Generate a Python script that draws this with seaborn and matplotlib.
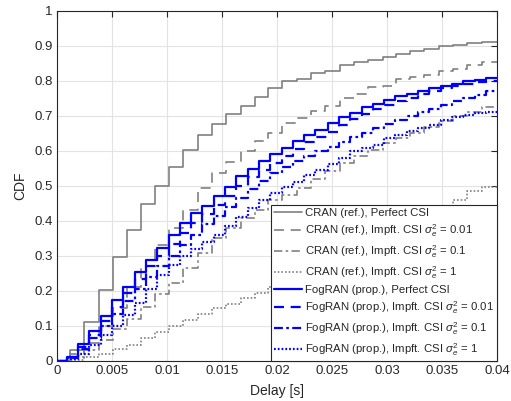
import pandas as pd
import matplotlib
matplotlib.use('Agg')
import matplotlib.pyplot as plt
import seaborn as sns

cran_delay = [0.0012, 0.0025, 0.0038, 0.0051, 0.0064, 0.0076, 0.0089, 0.0102, 0.0115, 0.0128,
              0.0141, 0.0154, 0.0167, 0.0180, 0.0192, 0.0205, 0.0218, 0.0231, 0.0244, 0.0257,
              0.0270, 0.0283, 0.0296, 0.0308, 0.0321, 0.0334, 0.0347, 0.0360, 0.0373, 0.0386]
fog_delay = [0.0009, 0.0019, 0.0029, 0.0040, 0.0050, 0.0060, 0.0071, 0.0081, 0.0091, 0.0102,
             0.0112, 0.0122, 0.0132, 0.0143, 0.0153, 0.0163, 0.0174, 0.0184, 0.0194, 0.0205,
             0.0215, 0.0225, 0.0235, 0.0246, 0.0256, 0.0266, 0.0277, 0.0287, 0.0297, 0.0307,
             0.0318, 0.0328, 0.0338, 0.0349, 0.0359, 0.0369, 0.0380, 0.0390]

cran_perfect = [0.03, 0.112, 0.203, 0.297, 0.375, 0.448, 0.50, 0.555, 0.603, 0.646,
                0.676, 0.706, 0.729, 0.753, 0.779, 0.798, 0.806, 0.822, 0.829, 0.846,
                0.853, 0.86, 0.868, 0.877, 0.884, 0.891, 0.898, 0.903, 0.908, 0.91]
cran_001 = [0.02, 0.05, 0.10, 0.15, 0.21, 0.27, 0.33, 0.38, 0.43, 0.495,
            0.536, 0.567, 0.598, 0.627, 0.65, 0.679, 0.693, 0.714, 0.729, 0.75,
            0.762, 0.782, 0.786, 0.806, 0.81, 0.817, 0.829, 0.834, 0.846, 0.853]
cran_01 = [0.01, 0.03, 0.06, 0.09, 0.12, 0.155, 0.19, 0.224, 0.265, 0.308,
           0.35, 0.379, 0.408, 0.431, 0.46, 0.475, 0.493, 0.52, 0.541, 0.565,
           0.584, 0.603, 0.622, 0.636, 0.65, 0.668, 0.684, 0.698, 0.712, 0.725]
cran_1 = [0.003, 0.01, 0.02, 0.033, 0.045, 0.065, 0.084, 0.1, 0.117, 0.133,
          0.15, 0.163, 0.179, 0.195, 0.212, 0.228, 0.246, 0.264, 0.282, 0.30,
          0.318, 0.336, 0.354, 0.372, 0.39, 0.41, 0.435, 0.46, 0.484, 0.498]

fog_perfect = [0.012, 0.048, 0.087, 0.129, 0.174, 0.212, 0.255, 0.289, 0.322, 0.36,
               0.393, 0.422, 0.443, 0.471, 0.498, 0.527, 0.548, 0.572, 0.59, 0.608,
               0.627, 0.646, 0.66, 0.679, 0.696, 0.709, 0.725, 0.733, 0.745, 0.755,
               0.762, 0.772, 0.779, 0.786, 0.791, 0.798, 0.803, 0.807]
fog_001 = [0.01, 0.04, 0.075, 0.115, 0.155, 0.195, 0.235, 0.27, 0.30, 0.335,
           0.365, 0.395, 0.42, 0.445, 0.47, 0.50, 0.525, 0.545, 0.565, 0.585,
           0.605, 0.625, 0.64, 0.655, 0.673, 0.69, 0.705, 0.718, 0.73, 0.742,
           0.752, 0.762, 0.771, 0.78, 0.786, 0.791, 0.796, 0.80]
fog_01 = [0.008, 0.035, 0.065, 0.10, 0.135, 0.17, 0.205, 0.24, 0.27, 0.30,
          0.33, 0.36, 0.39, 0.415, 0.44, 0.465, 0.49, 0.515, 0.536, 0.553,
          0.57, 0.584, 0.598, 0.612, 0.625, 0.638, 0.652, 0.664, 0.676, 0.688,
          0.698, 0.71, 0.72, 0.73, 0.742, 0.75, 0.76, 0.77]
fog_1 = [0.005, 0.02, 0.045, 0.075, 0.10, 0.13, 0.165, 0.205, 0.245, 0.275,
         0.30, 0.32, 0.34, 0.36, 0.384, 0.412, 0.436, 0.46, 0.48, 0.496,
         0.512, 0.53, 0.546, 0.563, 0.579, 0.598, 0.607, 0.617, 0.636, 0.646,
         0.656, 0.665, 0.674, 0.689, 0.696, 0.703, 0.708, 0.712]

labels = [
    'CRAN (ref.), Perfect CSI',
    r'CRAN (ref.), Impft. CSI $\sigma_e^2$ = 0.01',
    r'CRAN (ref.), Impft. CSI $\sigma_e^2$ = 0.1',
    r'CRAN (ref.), Impft. CSI $\sigma_e^2$ = 1',
    'FogRAN (prop.), Perfect CSI',
    r'FogRAN (prop.), Impft. CSI $\sigma_e^2$ = 0.01',
    r'FogRAN (prop.), Impft. CSI $\sigma_e^2$ = 0.1',
    r'FogRAN (prop.), Impft. CSI $\sigma_e^2$ = 1',
]
xticks = [0, 0.005, 0.01, 0.015, 0.02, 0.025, 0.03, 0.035, 0.04]
xtick_labels = ['0', '0.005', '0.01', '0.015', '0.02', '0.025', '0.03', '0.035', '0.04']
yticks = [0, 0.1, 0.2, 0.3, 0.4, 0.5, 0.6, 0.7, 0.8, 0.9, 1]
ytick_labels = ['0', '0.1', '0.2', '0.3', '0.4', '0.5', '0.6', '0.7', '0.8', '0.9', '1']
x_max = 0.04

sns.set_style('white')
plt.rcParams['font.family'] = ['Liberation Sans', 'DejaVu Sans']
plt.rcParams['mathtext.fontset'] = 'custom'
plt.rcParams['mathtext.rm'] = 'Liberation Sans'
plt.rcParams['mathtext.it'] = 'Liberation Sans:italic'

gray = '#808080'
blue = '#0000ff'
series = [
    (cran_delay, cran_perfect, gray, '-', 1.2),
    (cran_delay, cran_001, gray, (0, (6, 4)), 1.2),
    (cran_delay, cran_01, gray, (0, (5, 2, 1.5, 2)), 1.2),
    (cran_delay, cran_1, gray, (0, (1, 1.2)), 1.2),
    (fog_delay, fog_perfect, blue, '-', 1.6),
    (fog_delay, fog_001, blue, (0, (4.5, 3)), 1.6),
    (fog_delay, fog_01, blue, (0, (4, 1.5, 1.2, 1.5)), 1.6),
    (fog_delay, fog_1, blue, (0, (0.8, 0.9)), 1.6),
]

fig = plt.figure(figsize=(5.11, 4.01), dpi=100)
ax = fig.add_axes([0.1115, 0.0998, 0.861, 0.8736])

for (delay, cdf, color, ls, lw), label in zip(series, labels):
    df = pd.DataFrame({'Delay': [0.0] + delay + [x_max],
                       'CDF': [0.0] + cdf + [cdf[-1]]})
    sns.lineplot(data=df, x='Delay', y='CDF', ax=ax, color=color, linestyle=ls,
                 linewidth=lw, drawstyle='steps-post', label=label, sort=False)

ax.set_xlim(0, x_max)
ax.set_ylim(0, 1)
ax.set_xticks(xticks)
ax.set_xticklabels(xtick_labels)
ax.set_yticks(yticks)
ax.set_yticklabels(ytick_labels)
ax.grid(True, color='#e3e3e3', linewidth=0.8)
ax.set_axisbelow(True)
for s in ax.spines.values():
    s.set_color('#262626')
    s.set_linewidth(0.8)
ax.tick_params(direction='in', length=4, width=0.8, top=True, right=True,
               labelsize=9.5, colors='#262626', pad=3)
ax.set_xlabel('Delay [s]', fontsize=10, labelpad=5)
ax.set_ylabel('CDF', fontsize=10, labelpad=5)

leg = ax.legend(loc='lower right', fontsize=8.2, frameon=True, fancybox=False,
                borderaxespad=0, handlelength=2.4, handletextpad=0.25,
                borderpad=0.3, labelspacing=0.36, framealpha=1)
leg.get_frame().set_edgecolor('#262626')
leg.get_frame().set_linewidth(0.8)

fig.savefig('out.png', dpi=100)
